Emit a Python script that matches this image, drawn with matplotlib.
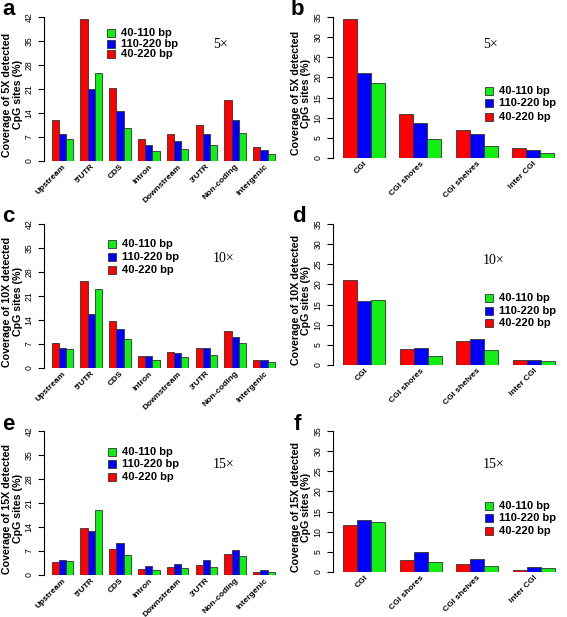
import matplotlib
matplotlib.use('Agg')
import matplotlib.pyplot as plt
from matplotlib.patches import Rectangle

plt.rcParams['font.family'] = ['Liberation Sans', 'DejaVu Sans']

regions = ['Upstream', "5'UTR", 'CDS', 'Intron', 'Downstream', "3'UTR", 'Non-coding', 'Intergenic']
cgi_regions = ['CGI', 'CGI shores', 'CGI shelves', 'Inter CGI']
series_names = ['40-110 bp', '110-220 bp', '40-220 bp']

# 5X coverage
a_red = [12.1, 41.3, 21.4, 6.3, 7.8, 10.5, 17.9, 4.2]
a_blue = [8.0, 21.1, 14.6, 4.8, 5.8, 8.0, 12.1, 3.1]
a_green = [6.5, 25.7, 9.6, 3.0, 3.6, 4.8, 8.3, 2.0]
b_red = [34.6, 10.8, 7.0, 2.6]
b_blue = [21.0, 8.7, 5.9, 2.1]
b_green = [18.5, 4.6, 3.0, 1.2]

# 10X coverage
c_red = [7.2, 25.5, 13.6, 3.5, 4.6, 5.9, 10.9, 2.2]
c_blue = [5.9, 15.7, 11.4, 3.5, 4.3, 5.7, 9.1, 2.2]
c_green = [5.5, 23.0, 8.4, 2.3, 3.1, 3.9, 7.2, 1.7]
d_red = [21.0, 3.9, 6.0, 1.2]
d_blue = [16.0, 4.1, 6.5, 1.3]
d_green = [16.1, 2.3, 3.6, 0.9]

# 15X coverage
e_red = [3.7, 13.6, 7.6, 1.7, 2.2, 2.9, 6.1, 1.0]
e_blue = [4.5, 12.9, 9.2, 2.6, 3.1, 4.3, 7.2, 1.6]
e_green = [4.2, 19.1, 5.9, 1.4, 1.9, 2.4, 5.4, 1.0]
f_red = [11.6, 3.1, 2.0, 0.6]
f_blue = [13.0, 4.9, 3.2, 1.2]
f_green = [12.4, 2.4, 1.6, 0.9]

RED = '#FF0000'
BLUE = '#0000FF'
GREEN = '#11EE11'
EDGE = '#333333'

W, H = 567, 617
fig = plt.figure(figsize=(W / 100, H / 100), dpi=100)


def fx(x):
	return x / W


def fy(y):
	return 1 - y / H


def px_axes(left, right, top, bottom):
	return fig.add_axes([fx(left), fy(bottom), (right - left) / W, (bottom - top) / H])


def panel(ax, cats, red, blue, green, ymax, step, depth, letter_xy, leg_x, leg_rows, cov_xy, lab_x):
	n = len(cats)
	letter, lx, ly = letter_xy
	for i in range(n):
		for j, (vals, col) in enumerate([(red, RED), (blue, BLUE), (green, GREEN)]):
			ax.bar(4 * i + 1.5 + j, vals[i], width=1.0, color=col,
				edgecolor=EDGE, linewidth=0.6)
	if n == 8:
		ax.set_xlim(-0.05, 33)
	else:
		ax.set_xlim(0.29, 16.5)
	ax.set_ylim(0, ymax)
	ax.set_yticks(range(0, ymax + 1, step))
	ax.tick_params(axis='y', labelsize=6.3, length=4, width=0.8, pad=3.5)
	for t in ax.get_yticklabels():
		t.set_rotation(90)
		t.set_va('center')
	ax.spines['top'].set_visible(False)
	ax.spines['right'].set_visible(False)
	ax.spines['bottom'].set_visible(False)
	ax.spines['left'].set_bounds(0, ymax)
	ax.spines['left'].set_linewidth(0.8)
	ax.set_xticks([4 * i + 2.5 for i in range(n)])
	ax.set_xticklabels(cats, rotation=45, ha='right', rotation_mode='anchor',
		fontsize=6.0, fontweight='bold')
	ax.tick_params(axis='x', length=0, pad=1.5)
	ax.set_ylabel('Coverage of %s detected\nCpG sites (%%)' % depth,
		fontsize=7.7, fontweight='bold', linespacing=1.05)
	ax.yaxis.set_label_coords(lab_x, 0.46)
	fig.text(fx(lx), fy(ly), letter, fontsize=16, fontweight='bold', ha='left', va='baseline')
	# legend drawn as boxes + labels, top row is 40-110 bp
	for (yy, col, name) in zip(leg_rows, [GREEN, BLUE, RED], series_names):
		fig.add_artist(Rectangle((fx(leg_x), fy(yy + 4)), 8 / W, 8 / H,
			transform=fig.transFigure, facecolor=col, edgecolor=EDGE, linewidth=0.6))
		fig.text(fx(leg_x + 14), fy(yy), name, fontsize=8, fontweight='bold',
			ha='left', va='center')
	fig.text(fx(cov_xy[0]), fy(cov_xy[1]), depth.replace('X', '\u00d7'),
		fontsize=10, family=['Liberation Serif', 'DejaVu Serif'], ha='left', va='center')


ax_a = px_axes(44, 282, 17, 161)
ax_b = px_axes(333, 561, 17, 158)
ax_c = px_axes(44, 282, 224, 368)
ax_d = px_axes(333, 562, 224, 365)
ax_e = px_axes(44, 282, 431, 575)
ax_f = px_axes(333, 562, 431, 572)

panel(ax_a, regions, a_red, a_blue, a_green, 42, 7, '5X', ('a', 2, 15),
	107, (33.3, 43.7, 54.3), (213, 45), -0.09)
panel(ax_b, cgi_regions, b_red, b_blue, b_green, 35, 5, '5X', ('b', 291, 15),
	485, (90.7, 103.3, 116.7), (483, 45), -0.095)
panel(ax_c, regions, c_red, c_blue, c_green, 42, 7, '10X', ('c', 2, 222),
	108, (244, 257, 270), (213, 258), -0.09)
panel(ax_d, cgi_regions, d_red, d_blue, d_green, 35, 5, '10X', ('d', 292, 222),
	485, (298, 311, 323), (483, 260), -0.095)
panel(ax_e, regions, e_red, e_blue, e_green, 42, 7, '15X', ('e', 2, 430),
	108, (452, 464, 477), (213, 465), -0.09)
panel(ax_f, cgi_regions, f_red, f_blue, f_green, 35, 5, '15X', ('f', 294, 430),
	485, (506, 518, 531), (483, 465), -0.095)

fig.savefig('out.png', dpi=100)
